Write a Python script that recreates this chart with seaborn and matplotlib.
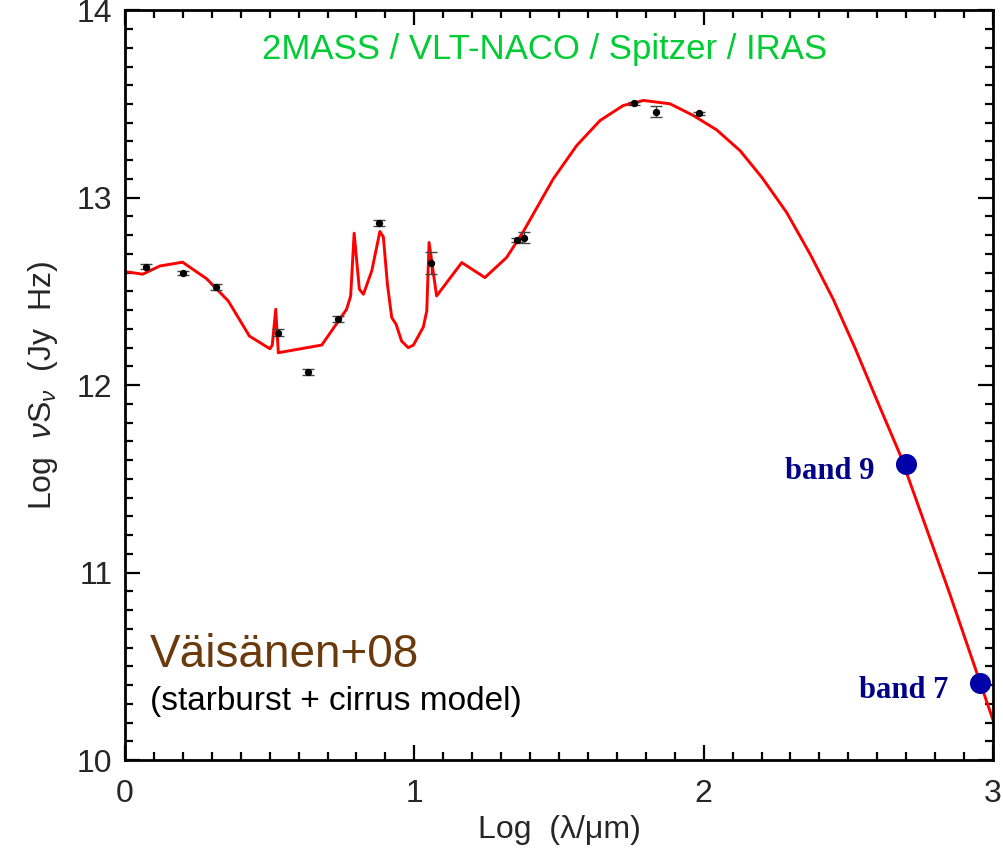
import numpy as np
import pandas as pd
import matplotlib
matplotlib.use("Agg")
import matplotlib.pyplot as plt
import seaborn as sns
from matplotlib.ticker import MultipleLocator

# ---- data -------------------------------------------------------------
model_logwl = [0.000, 0.061, 0.121, 0.199, 0.282, 0.357, 0.430, 0.501, 0.509, 0.521,
               0.530, 0.680, 0.766, 0.780, 0.792, 0.810, 0.824, 0.853, 0.881, 0.893,
               0.907, 0.922, 0.937, 0.956, 0.979, 0.997, 1.031, 1.043, 1.051, 1.077,
               1.164, 1.244, 1.319, 1.377, 1.480, 1.561, 1.642, 1.722, 1.792, 1.884,
               1.964, 2.045, 2.126, 2.201, 2.287, 2.368, 2.448, 2.523, 2.598, 2.679,
               2.850, 3.000]
model_lognuS = [12.606, 12.592, 12.636, 12.656, 12.568, 12.449, 12.262, 12.194, 12.214, 12.405,
                12.173, 12.214, 12.405, 12.476, 12.811, 12.512, 12.485, 12.610, 12.820, 12.791,
                12.538, 12.360, 12.325, 12.235, 12.200, 12.214, 12.310, 12.396, 12.761, 12.476,
                12.654, 12.574, 12.681, 12.820, 13.100, 13.278, 13.412, 13.492, 13.519, 13.501,
                13.439, 13.362, 13.251, 13.109, 12.921, 12.699, 12.458, 12.199, 11.923, 11.629,
                10.890, 10.214]

obs_logwl = [0.073, 0.199, 0.314, 0.529, 0.633, 0.736, 0.877, 1.058, 1.354, 1.379,
             1.759, 1.835, 1.983]
obs_lognuS = [12.633, 12.599, 12.524, 12.280, 12.070, 12.353, 12.866, 12.652, 12.775, 12.786,
              13.504, 13.460, 13.451]
obs_err = [0.012, 0.010, 0.015, 0.018, 0.015, 0.015, 0.015, 0.060, 0.010, 0.030,
           0.008, 0.030, 0.008]

band_names = ["band 9", "band 7"]
band_logwl = [2.700, 2.955]
band_lognuS = [11.580, 10.413]

header_text = "2MASS / VLT-NACO / Spitzer / IRAS"
model_name = "Väisänen+08"
model_desc = "(starburst + cirrus model)"

# ---- style ------------------------------------------------------------
sns.set_theme(style="ticks")
plt.rcParams["font.family"] = ["Liberation Sans", "DejaVu Sans"]
plt.rcParams["mathtext.fontset"] = "custom"
plt.rcParams["mathtext.rm"] = "Liberation Sans"
plt.rcParams["mathtext.it"] = "Liberation Sans:italic"
plt.rcParams["mathtext.bf"] = "Liberation Sans:bold"

fig = plt.figure(figsize=(10.04, 8.58), dpi=100)
ax = fig.add_axes([0.1245, 0.1142, 0.8645, 0.8738])

model_df = pd.DataFrame({"x": model_logwl, "y": model_lognuS})
obs_df = pd.DataFrame({"x": obs_logwl, "y": obs_lognuS, "e": obs_err})
band_df = pd.DataFrame({"x": band_logwl, "y": band_lognuS, "name": band_names})

sns.lineplot(data=model_df, x="x", y="y", ax=ax, color="#ff0000", lw=2.1,
             sort=False, estimator=None, zorder=2)
ax.errorbar(obs_df["x"], obs_df["y"], yerr=obs_df["e"], fmt="none",
            ecolor="#444444", elinewidth=1.0, capsize=4, capthick=1.0, zorder=3)
sns.scatterplot(data=obs_df, x="x", y="y", ax=ax, color="black", s=28,
                edgecolor="black", linewidth=0, zorder=4)
sns.scatterplot(data=band_df, x="x", y="y", ax=ax, color="#0000a8", s=230,
                edgecolor="#0000a8", linewidth=0, zorder=5)

label_dy = [-0.083, -0.081]
for (_, r), dy in zip(band_df.iterrows(), label_dy):
    ax.text(r["x"] - 0.11, r["y"] + dy, r["name"], ha="right", va="baseline",
            family=["Liberation Serif"], fontweight="bold", fontsize=22,
            color="#000088")

ax.text(1.45, 13.79, header_text, ha="center", va="center", fontsize=25,
        color="#00cc33")
ax.text(0.085, 10.497, model_name, ha="left", va="baseline", fontsize=33,
        color="#6b3a0c")
ax.text(0.085, 10.267, model_desc, ha="left", va="baseline", fontsize=24,
        color="black")

ax.set_xlim(0, 3)
ax.set_ylim(10, 14)
ax.xaxis.set_major_locator(MultipleLocator(1))
ax.xaxis.set_minor_locator(MultipleLocator(0.1))
ax.yaxis.set_major_locator(MultipleLocator(1))
ax.yaxis.set_minor_locator(MultipleLocator(0.1))
ax.tick_params(which="both", direction="in", top=True, right=True,
               color="black", labelsize=23)
ax.tick_params(which="major", length=11, width=1.6)
ax.tick_params(which="minor", length=5.5, width=1.6)
ax.tick_params(axis="x", which="major", pad=14)
ax.tick_params(axis="y", which="major", pad=9)
for s in ax.spines.values():
    s.set_linewidth(2.0)
    s.set_color("black")

ax.set_xlabel("Log  (λ/μm)", fontsize=23, labelpad=4)
ax.set_ylabel(r"Log  $\nu\mathrm{S}_{\nu}$  (Jy  Hz)", fontsize=23, labelpad=12)

fig.savefig("out.png", dpi=100)
